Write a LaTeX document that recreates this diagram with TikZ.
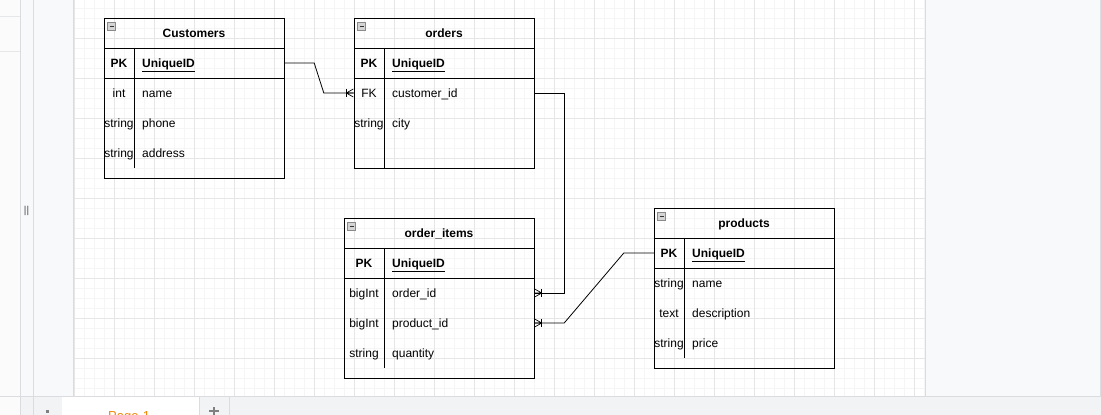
\documentclass[tikz,border=0pt]{standalone}
\usepackage{fontspec}
\setmainfont{Liberation Sans}
\usetikzlibrary{calc}
\definecolor{panel}{HTML}{F8F9FA}
\definecolor{leftpanel}{HTML}{FBFBFB}
\definecolor{divider}{HTML}{DADCE0}
\definecolor{gridminor}{HTML}{F5F5F5}
\definecolor{gridmajor}{HTML}{E6E6E6}
\definecolor{tabbar}{HTML}{F1F3F4}
\definecolor{pageorange}{HTML}{F08705}
\definecolor{icongray}{HTML}{D4D4D4}
\definecolor{iconedge}{HTML}{8A8A8A}
\newcommand\erfont{\fontsize{12}{14}\selectfont}
\begin{document}
\begin{tikzpicture}[x=1pt,y=-1pt,
  tbl/.style={draw=black,line width=0.9pt},
  sep/.style={draw=black,line width=0.9pt},
  txt/.style={inner sep=0pt,anchor=base,yshift=-4.4pt},
  title/.style={txt,font=\erfont\bfseries},
  typ/.style={txt,font=\erfont},
  keytyp/.style={txt,font=\erfont\bfseries},
  field/.style={txt,font=\erfont,anchor=base west},
  keyfield/.style={txt,font=\erfont\bfseries,anchor=base west},
  rowbox/.style={inner sep=0pt,minimum height=30pt,minimum width=#1},
  link/.style={draw=black,line width=0.8pt},
  foot/.style={draw=black,line width=0.7pt}]
\useasboundingbox (0,0) rectangle (1101,415);
\clip (0,0) rectangle (1101,415);

% ---- application frame ----
\fill[leftpanel] (0,0) rectangle (20,396);
\draw[divider!70] (0,16) -- (20,16) (0,51) -- (20,51);
\fill[panel] (20,0) rectangle (73,396);
\draw[divider] (20,0) -- (20,415) (33,0) -- (33,396);
\node[font=\fontsize{10}{10}\selectfont,text=black!70,inner sep=0pt] (grip) at (26.5,211) {||};

% ---- canvas with grid ----
\fill[white] (73,0) rectangle (925,396);
\foreach \gx in {74,84,...,924} \draw[gridminor,line width=0.6pt] (\gx,0) -- (\gx,396);
\foreach \gy in {8,18,...,396} \draw[gridminor,line width=0.6pt] (73,\gy) -- (925,\gy);
\foreach \gx in {74,114,...,924} \draw[gridmajor,line width=0.6pt] (\gx,0) -- (\gx,396);
\foreach \gy in {38,78,...,396} \draw[gridmajor,line width=0.6pt] (73,\gy) -- (925,\gy);
\draw[divider] (73,0) -- (73,396);
\fill[panel] (925,0) rectangle (1101,396);
\draw[divider] (925.5,0) -- (925.5,396);
\draw[divider] (1100.5,0) -- (1100.5,396);

% ---- page tab bar ----
\fill[tabbar] (0,396) rectangle (1101,415);
\fill[leftpanel] (0,396) rectangle (20,415);
\draw[divider] (0,396) -- (1101,396);
\draw[divider] (20,396) -- (20,415) (33,396) -- (33,415);
\fill[gray] (46,410) rectangle (48.5,412.5);
\fill[white] (62,397) rectangle (199,415);
\draw[divider] (199,396) -- (199,415) (229,396) -- (229,415);
\node[font=\fontsize{13}{13}\selectfont,text=pageorange,anchor=north west,inner sep=0pt] (pagename) at (108,411.5) {Page-1};
\draw[gray,line width=1.2pt] (214,407) -- (214,415) (209,411) -- (219,411);

% ---- collapse icon ----
\tikzset{pics/collapse/.style={code={
  \draw[iconedge,fill=icongray,line width=0.5pt] (0,0) rectangle (8,8);
  \draw[black!80,line width=1pt] (2,4) -- (6,4);}}}

% ---- crow's foot (one or many): apex at origin, spreading along +x ----
\tikzset{pics/crowfoot/.style={code={
  \draw[foot] (0,0) -- (7,-4) (0,0) -- (7,4) (0,0) -- (7,0);
  \draw[foot] (0.5,-4) -- (0.5,4);}}}

% ---- Customers ----
\draw[tbl] (104,18) rectangle (284,178);
\draw[sep] (104,48) -- (284,48) (104,78) -- (284,78) (134,48) -- (134,168);
\pic at (107.5,22) {collapse};
\node[title] (cust-title) at (194,33) {Customers};
\node[rowbox=180pt] (cust-id) at (194,63) {};
\node[keytyp] at (119,63) {PK};
\node[keyfield] at (142,63) {\underline{UniqueID}};
\node[typ] at (119,93) {int};      \node[field] at (142,93) {name};
\node[typ] at (119,123) {string};  \node[field] at (142,123) {phone};
\node[typ] at (119,153) {string};  \node[field] at (142,153) {address};

% ---- orders ----
\draw[tbl] (354,18) rectangle (534,168);
\draw[sep] (354,48) -- (534,48) (354,78) -- (534,78) (384,48) -- (384,168);
\pic at (357.5,22) {collapse};
\node[title] (ord-title) at (444,33) {orders};
\node[keytyp] at (369,63) {PK};
\node[keyfield] at (392,63) {\underline{UniqueID}};
\node[rowbox=180pt] (ord-fk) at (444,93) {};
\node[typ] at (369,93) {FK};       \node[field] at (392,93) {customer\_id};
\node[typ] at (369,123) {string};  \node[field] at (392,123) {city};

% ---- order_items ----
\draw[tbl] (344,218) rectangle (534,378);
\draw[sep] (344,248) -- (534,248) (344,278) -- (534,278) (384,248) -- (384,368);
\pic at (347.5,222) {collapse};
\node[title] (oi-title) at (439,233) {order\_items};
\node[keytyp] at (364,263) {PK};
\node[keyfield] at (392,263) {\underline{UniqueID}};
\node[rowbox=190pt] (oi-order) at (439,293) {};
\node[rowbox=190pt] (oi-prod) at (439,323) {};
\node[typ] at (364,293) {bigInt};  \node[field] at (392,293) {order\_id};
\node[typ] at (364,323) {bigInt};  \node[field] at (392,323) {product\_id};
\node[typ] at (364,353) {string};  \node[field] at (392,353) {quantity};

% ---- products ----
\draw[tbl] (654,208) rectangle (834,368);
\draw[sep] (654,238) -- (834,238) (654,268) -- (834,268) (684,238) -- (684,358);
\pic at (657.5,212) {collapse};
\node[title] (prod-title) at (744,223) {products};
\node[rowbox=180pt] (prod-id) at (744,253) {};
\node[keytyp] at (669,253) {PK};
\node[keyfield] at (692,253) {\underline{UniqueID}};
\node[typ] at (669,283) {string};  \node[field] at (692,283) {name};
\node[typ] at (669,313) {text};    \node[field] at (692,313) {description};
\node[typ] at (669,343) {string};  \node[field] at (692,343) {price};

% ---- relationships ----
\draw[link] (cust-id.east) -- ++(30,0) -- ($(ord-fk.west)+(-30,0)$) -- (ord-fk.west);
\pic at ($(ord-fk.west)+(-7.5,0)$) {crowfoot};

\draw[link] (ord-fk.east) -- ++(30,0) |- (oi-order.east);
\pic[xscale=-1] at ($(oi-order.east)+(7.5,0)$) {crowfoot};

\draw[link] (prod-id.west) -- ++(-30,0) -- ($(oi-prod.east)+(30,0)$) -- (oi-prod.east);
\pic[xscale=-1] at ($(oi-prod.east)+(7.5,0)$) {crowfoot};
\end{tikzpicture}
\end{document}
